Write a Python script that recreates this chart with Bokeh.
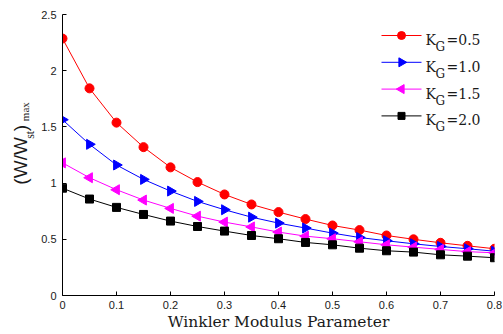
import math
from bokeh.plotting import figure
from bokeh.layouts import row
from bokeh.models import Range1d, Label, ColumnDataSource, FixedTicker
from bokeh.embed import file_html
from bokeh.resources import INLINE

# ---------------- data ----------------
x_vals = [0.0, 0.05, 0.1, 0.15, 0.2, 0.25, 0.3, 0.35, 0.4, 0.45, 0.5,
          0.55, 0.6, 0.65, 0.7, 0.75, 0.8]
w_kg05 = [2.286, 1.843, 1.538, 1.320, 1.140, 1.009, 0.899, 0.810, 0.742,
          0.680, 0.623, 0.582, 0.534, 0.500, 0.469, 0.442, 0.416]
w_kg10 = [1.564, 1.345, 1.161, 1.033, 0.929, 0.837, 0.763, 0.697, 0.644,
          0.600, 0.555, 0.516, 0.487, 0.460, 0.436, 0.416, 0.394]
w_kg15 = [1.180, 1.048, 0.941, 0.849, 0.775, 0.706, 0.653, 0.610, 0.564,
          0.528, 0.505, 0.478, 0.451, 0.430, 0.410, 0.390, 0.380]
w_kg20 = [0.955, 0.858, 0.784, 0.721, 0.662, 0.614, 0.573, 0.534, 0.505,
          0.472, 0.451, 0.421, 0.398, 0.386, 0.362, 0.350, 0.336]
kg_labels = ["0.5", "1.0", "1.5", "2.0"]

x_ticks = [0, 0.1, 0.2, 0.3, 0.4, 0.5, 0.6, 0.7, 0.8]
x_tick_labels = ["0", "0.1", "0.2", "0.3", "0.4", "0.5", "0.6", "0.7", "0.8"]
y_ticks = [0, 0.5, 1, 1.5, 2, 2.5]
y_tick_labels = ["0", "0.5", "1", "1.5", "2", "2.5"]

x_title = "Winkler Modulus Parameter"

# ---------------- layout (page pixels) ----------------
X0, X1, Y0, Y1 = 0.0, 0.8, 0.0, 2.5
W, H = 503, 334
SIDE = 36                       # width of the strip holding the y title
FL, FR, FT, FB = 62, 494, 14, 295  # frame edges on the page
MW = W - SIDE                   # main figure width


def dx(px):
    return X0 + (px - FL) * (X1 - X0) / (FR - FL)


def dy(py):
    return Y0 + (FB - py) * (Y1 - Y0) / (FB - FT)


source = ColumnDataSource(data=dict(x=x_vals, k05=w_kg05, k10=w_kg10,
                                    k15=w_kg15, k20=w_kg20))

p = figure(width=MW, height=H, output_backend="svg", toolbar_location=None,
           x_range=Range1d(X0, X1), y_range=Range1d(Y0, Y1),
           min_border_left=FL - SIDE, min_border_right=W - FR,
           min_border_top=FT, min_border_bottom=H - FB)
p.grid.visible = False
p.outline_line_color = None
p.background_fill_color = "white"
p.border_fill_color = "white"

for ax, ticks, labels in ((p.xaxis, x_ticks, x_tick_labels),
                          (p.yaxis, y_ticks, y_tick_labels)):
    ax.ticker = FixedTicker(ticks=ticks)
    ax.major_label_overrides = {t: l for t, l in zip(ticks, labels)}
    ax.minor_tick_line_color = None
    ax.major_tick_in = 4
    ax.major_tick_out = 0
    ax.axis_line_color = "black"
    ax.major_tick_line_color = "black"
    ax.major_label_text_font = "Liberation Sans"
    ax.major_label_text_font_size = "11px"
    ax.major_label_text_color = "#1a1a1a"
p.xaxis.major_label_standoff = 5
p.yaxis.major_label_standoff = 6

p.xaxis.axis_label = x_title
p.xaxis.axis_label_text_font = "DejaVu Serif"
p.xaxis.axis_label_text_font_size = "15.5px"
p.xaxis.axis_label_text_font_style = "normal"
p.xaxis.axis_label_text_color = "#1a1a1a"
p.xaxis.axis_label_standoff = 1

series = [
    ("k05", "red", "circle", 9, 0.0),
    ("k10", "blue", "triangle", 10, -math.pi / 2),
    ("k15", "magenta", "triangle", 10, math.pi / 2),
    ("k20", "black", "square", 8, 0.0),
]

for i, ((col, color, marker, size, ang), lab) in enumerate(zip(series, kg_labels)):
    p.line("x", col, source=source, line_color=color, line_width=1)
    p.scatter("x", col, source=source, marker=marker, size=size,
              angle=ang, fill_color=color, line_color=color)
    # legend key
    c = 35 + 26.8 * i
    p.segment(x0=[dx(381)], y0=[dy(c)], x1=[dx(421)], y1=[dy(c)],
              line_color=color, line_width=1)
    p.scatter(x=[dx(401)], y=[dy(c)], marker=marker, size=size - 1,
              angle=ang, fill_color=color, line_color=color)
    # legend text K_G=...
    b = c + 4.5
    p.add_layout(Label(x=dx(425), y=dy(b), text="K", text_font="DejaVu Serif",
                       text_font_size="14px", text_color="#1a1a1a",
                       text_baseline="alphabetic", text_align="left"))
    p.add_layout(Label(x=dx(435), y=dy(b + 7), text="G", text_font="DejaVu Serif",
                       text_font_size="12px", text_color="#1a1a1a",
                       text_baseline="alphabetic", text_align="left"))
    p.add_layout(Label(x=dx(446), y=dy(b), text="=" + lab, text_font="DejaVu Serif",
                       text_font_size="14px", text_color="#1a1a1a",
                       text_baseline="alphabetic", text_align="left"))

# ---------------- strip with the rotated y title (W/W_st)_max ----------------
s = figure(width=SIDE, height=H, output_backend="svg", toolbar_location=None,
           x_range=Range1d(0, SIDE), y_range=Range1d(0, H),
           x_axis_location=None, y_axis_location=None,
           min_border=0, min_border_left=0, min_border_right=0,
           min_border_top=0, min_border_bottom=0)
s.grid.visible = False
s.outline_line_color = None
s.background_fill_color = "white"
s.border_fill_color = "white"

rot = math.pi / 2
# (centre x, centre y) of each piece, rotated text
for cx, cy, txt, font, fs in ((20.4, 174, "(W/W", "Liberation Sans", "19px"),
                              (29.0, 143, "st", "Liberation Serif", "12px"),
                              (20.4, 135, ")", "Liberation Sans", "19px"),
                              (24.3, 115.5, "max", "Liberation Serif", "11px")):
    s.add_layout(Label(x=cx, y=H - cy, text=txt, text_font=font,
                       text_font_size=fs, text_color="#1a1a1a", angle=rot,
                       text_baseline="middle", text_align="center"))

layout = row(s, p, spacing=0)
open("out.html", "w").write(file_html(layout, INLINE))
